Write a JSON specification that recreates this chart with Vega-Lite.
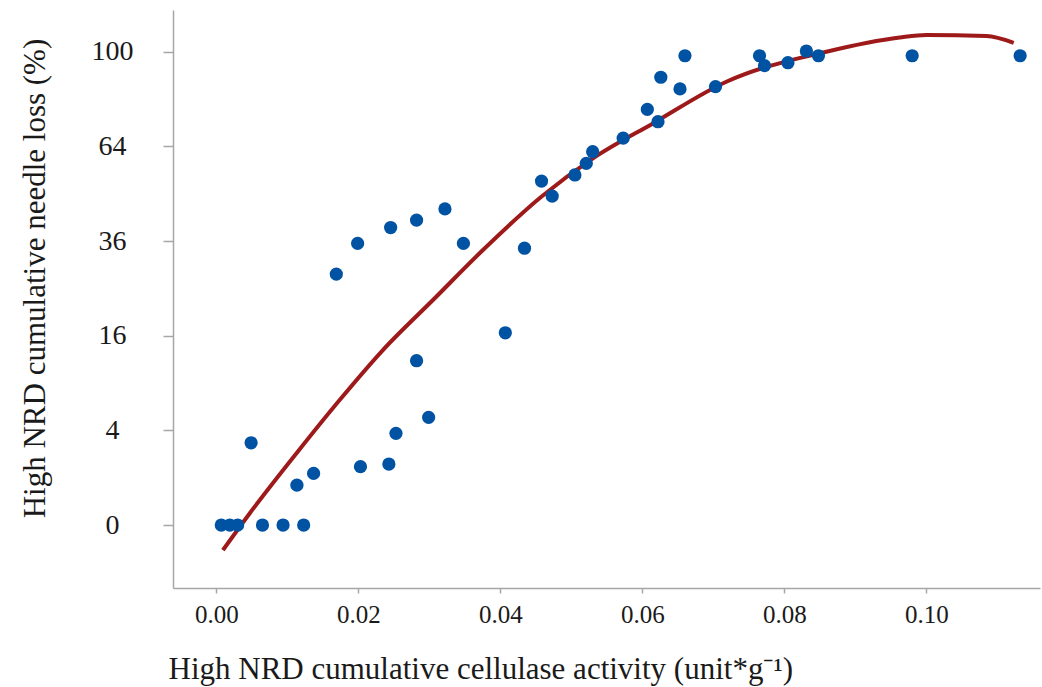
{
  "$schema": "https://vega.github.io/schema/vega-lite/v6.json",
  "width": 867,
  "height": 578,
  "autosize": {"type": "none"},
  "padding": {"left": 173, "top": 10, "right": 2, "bottom": 99},
  "background": "white",
  "config": {
    "view": {"stroke": null},
    "font": "Liberation Serif"
  },
  "datasets": {
    "points": [
      {"x": 0.0007, "y": 0}, {"x": 0.0019, "y": 0}, {"x": 0.0030, "y": 0},
      {"x": 0.0065, "y": 0}, {"x": 0.0094, "y": 0}, {"x": 0.0123, "y": 0},
      {"x": 0.0049, "y": 3.02},
      {"x": 0.01135, "y": 0.71}, {"x": 0.0137, "y": 1.19},
      {"x": 0.0203, "y": 1.52}, {"x": 0.0243, "y": 1.66},
      {"x": 0.0253, "y": 3.75}, {"x": 0.0299, "y": 5.18},
      {"x": 0.0282, "y": 12.05}, {"x": 0.0407, "y": 16.5},
      {"x": 0.0169, "y": 28.1},
      {"x": 0.0199, "y": 35.4}, {"x": 0.02455, "y": 39.5},
      {"x": 0.0282, "y": 41.5}, {"x": 0.0322, "y": 44.6},
      {"x": 0.0348, "y": 35.4}, {"x": 0.0434, "y": 34.2},
      {"x": 0.0458, "y": 52.8}, {"x": 0.0473, "y": 48.3},
      {"x": 0.0505, "y": 54.7}, {"x": 0.0521, "y": 58.4},
      {"x": 0.0530, "y": 62.2}, {"x": 0.0573, "y": 66.8},
      {"x": 0.0622, "y": 72.6}, {"x": 0.0607, "y": 77.1},
      {"x": 0.0626, "y": 89.5}, {"x": 0.0653, "y": 84.9},
      {"x": 0.0660, "y": 98.3}, {"x": 0.0703, "y": 85.8},
      {"x": 0.0765, "y": 98.3}, {"x": 0.0772, "y": 94.2},
      {"x": 0.0805, "y": 95.4}, {"x": 0.0831, "y": 100.3},
      {"x": 0.0848, "y": 98.3}, {"x": 0.0980, "y": 98.3},
      {"x": 0.1132, "y": 98.3}
    ],
    "curve": [
      {"x": 0.00093, "y": -0.28},
      {"x": 0.00469, "y": 0.06},
      {"x": 0.01127, "y": 2.29},
      {"x": 0.01737, "y": 6.98},
      {"x": 0.02346, "y": 13.67},
      {"x": 0.03051, "y": 22.6},
      {"x": 0.03755, "y": 33.76},
      {"x": 0.04577, "y": 48.1},
      {"x": 0.05304, "y": 60.0},
      {"x": 0.06149, "y": 72.0},
      {"x": 0.07183, "y": 87.7},
      {"x": 0.08592, "y": 100.0},
      {"x": 0.09624, "y": 106.1},
      {"x": 0.1, "y": 107.2},
      {"x": 0.10845, "y": 106.7},
      {"x": 0.1123, "y": 103.8}
    ]
  },
  "encoding": {
    "x": {
      "field": "x", "type": "quantitative",
      "scale": {"domain": [-0.0061, 0.116], "nice": false, "zero": false},
      "axis": {
        "values": [0, 0.02, 0.04, 0.06, 0.08, 0.1],
        "format": ".2f",
        "grid": false,
        "domainColor": "#a6a6a6", "domainWidth": 1.5,
        "tickColor": "#a6a6a6", "tickWidth": 1.5, "tickSize": 5,
        "labelFont": "Liberation Serif", "labelFontSize": 25, "labelColor": "#1a1a1a",
        "labelPadding": 9,
        "title": "High NRD cumulative cellulase activity (unit*g⁻¹)",
        "titleFont": "Liberation Serif", "titleFontSize": 31, "titleFontWeight": "normal",
        "titleColor": "#1a1a1a",
        "titleAlign": "left", "titleBaseline": "alphabetic",
        "titleX": -5, "titleY": 90
      }
    },
    "y": {
      "field": "y", "type": "quantitative",
      "scale": {"type": "sqrt", "domain": [-1.77, 118.4], "nice": false, "zero": false},
      "axis": {
        "values": [0, 4, 16, 36, 64, 100],
        "grid": false,
        "domainColor": "#a6a6a6", "domainWidth": 1.5,
        "tickColor": "#a6a6a6", "tickWidth": 1.5, "tickSize": 10,
        "labelFont": "Liberation Serif", "labelFontSize": 28, "labelColor": "#1a1a1a",
        "labelAlign": "center",
        "labelPadding": 51,
        "title": "High NRD cumulative needle loss (%)",
        "titleFont": "Liberation Serif", "titleFontSize": 31, "titleFontWeight": "normal",
        "titleColor": "#1a1a1a",
        "titleAngle": -90, "titleAlign": "center", "titleBaseline": "alphabetic",
        "titleX": -129, "titleY": 268
      }
    }
  },
  "layer": [
    {
      "data": {"name": "curve"},
      "mark": {"type": "line", "color": "#9e1a1a", "strokeWidth": 4, "interpolate": "monotone", "clip": true}
    },
    {
      "data": {"name": "points"},
      "mark": {"type": "circle", "color": "#0052a3", "opacity": 1, "size": 175}
    }
  ]
}
